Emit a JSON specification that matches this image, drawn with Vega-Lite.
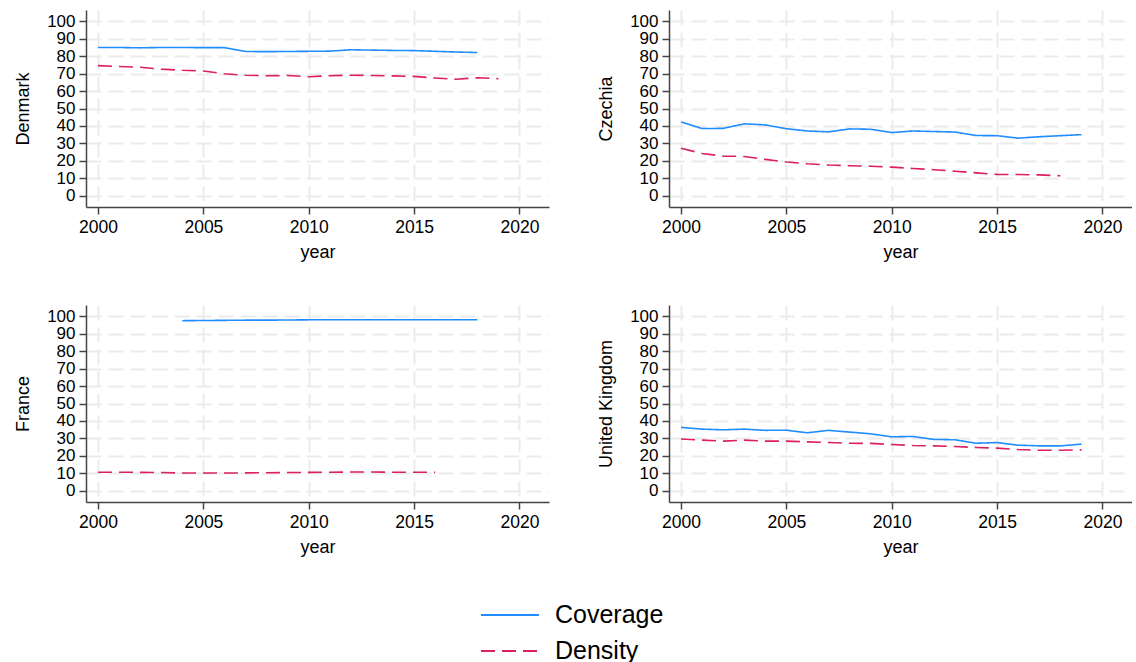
{
  "$schema": "https://vega.github.io/schema/vega-lite/v6.json",
  "padding": {"left": 14, "top": 10, "right": 0, "bottom": 0},
  "background": "white",
  "data": {"values": [
    {"country":"Denmark","series":"Coverage","year":2000,"value":85.0},
    {"country":"Denmark","series":"Coverage","year":2001,"value":85.0},
    {"country":"Denmark","series":"Coverage","year":2002,"value":84.8},
    {"country":"Denmark","series":"Coverage","year":2003,"value":85.0},
    {"country":"Denmark","series":"Coverage","year":2004,"value":85.0},
    {"country":"Denmark","series":"Coverage","year":2005,"value":84.9},
    {"country":"Denmark","series":"Coverage","year":2006,"value":84.9},
    {"country":"Denmark","series":"Coverage","year":2007,"value":82.7},
    {"country":"Denmark","series":"Coverage","year":2008,"value":82.6},
    {"country":"Denmark","series":"Coverage","year":2009,"value":82.7},
    {"country":"Denmark","series":"Coverage","year":2010,"value":82.8},
    {"country":"Denmark","series":"Coverage","year":2011,"value":82.9},
    {"country":"Denmark","series":"Coverage","year":2012,"value":83.7},
    {"country":"Denmark","series":"Coverage","year":2013,"value":83.5},
    {"country":"Denmark","series":"Coverage","year":2014,"value":83.3},
    {"country":"Denmark","series":"Coverage","year":2015,"value":83.2},
    {"country":"Denmark","series":"Coverage","year":2016,"value":82.8},
    {"country":"Denmark","series":"Coverage","year":2017,"value":82.4},
    {"country":"Denmark","series":"Coverage","year":2018,"value":82.1},
    {"country":"Denmark","series":"Density","year":2000,"value":74.6},
    {"country":"Denmark","series":"Density","year":2001,"value":74.1},
    {"country":"Denmark","series":"Density","year":2002,"value":73.7},
    {"country":"Denmark","series":"Density","year":2003,"value":72.6},
    {"country":"Denmark","series":"Density","year":2004,"value":71.9},
    {"country":"Denmark","series":"Density","year":2005,"value":71.5},
    {"country":"Denmark","series":"Density","year":2006,"value":69.9},
    {"country":"Denmark","series":"Density","year":2007,"value":69.1},
    {"country":"Denmark","series":"Density","year":2008,"value":68.8},
    {"country":"Denmark","series":"Density","year":2009,"value":68.9},
    {"country":"Denmark","series":"Density","year":2010,"value":68.2},
    {"country":"Denmark","series":"Density","year":2011,"value":68.8},
    {"country":"Denmark","series":"Density","year":2012,"value":69.1},
    {"country":"Denmark","series":"Density","year":2013,"value":68.9},
    {"country":"Denmark","series":"Density","year":2014,"value":68.7},
    {"country":"Denmark","series":"Density","year":2015,"value":68.4},
    {"country":"Denmark","series":"Density","year":2016,"value":67.5},
    {"country":"Denmark","series":"Density","year":2017,"value":66.8},
    {"country":"Denmark","series":"Density","year":2018,"value":67.6},
    {"country":"Denmark","series":"Density","year":2019,"value":67.1},
    {"country":"Czechia","series":"Coverage","year":2000,"value":42.3},
    {"country":"Czechia","series":"Coverage","year":2001,"value":38.5},
    {"country":"Czechia","series":"Coverage","year":2002,"value":38.6},
    {"country":"Czechia","series":"Coverage","year":2003,"value":41.2},
    {"country":"Czechia","series":"Coverage","year":2004,"value":40.6},
    {"country":"Czechia","series":"Coverage","year":2005,"value":38.4},
    {"country":"Czechia","series":"Coverage","year":2006,"value":37.1},
    {"country":"Czechia","series":"Coverage","year":2007,"value":36.6},
    {"country":"Czechia","series":"Coverage","year":2008,"value":38.3},
    {"country":"Czechia","series":"Coverage","year":2009,"value":38.1},
    {"country":"Czechia","series":"Coverage","year":2010,"value":36.2},
    {"country":"Czechia","series":"Coverage","year":2011,"value":37.1},
    {"country":"Czechia","series":"Coverage","year":2012,"value":36.8},
    {"country":"Czechia","series":"Coverage","year":2013,"value":36.5},
    {"country":"Czechia","series":"Coverage","year":2014,"value":34.5},
    {"country":"Czechia","series":"Coverage","year":2015,"value":34.4},
    {"country":"Czechia","series":"Coverage","year":2016,"value":33.0},
    {"country":"Czechia","series":"Coverage","year":2017,"value":33.8},
    {"country":"Czechia","series":"Coverage","year":2018,"value":34.4},
    {"country":"Czechia","series":"Coverage","year":2019,"value":35.0},
    {"country":"Czechia","series":"Density","year":2000,"value":27.2},
    {"country":"Czechia","series":"Density","year":2001,"value":24.2},
    {"country":"Czechia","series":"Density","year":2002,"value":22.7},
    {"country":"Czechia","series":"Density","year":2003,"value":22.5},
    {"country":"Czechia","series":"Density","year":2004,"value":20.8},
    {"country":"Czechia","series":"Density","year":2005,"value":19.3},
    {"country":"Czechia","series":"Density","year":2006,"value":18.3},
    {"country":"Czechia","series":"Density","year":2007,"value":17.6},
    {"country":"Czechia","series":"Density","year":2008,"value":17.2},
    {"country":"Czechia","series":"Density","year":2009,"value":16.9},
    {"country":"Czechia","series":"Density","year":2010,"value":16.4},
    {"country":"Czechia","series":"Density","year":2011,"value":15.6},
    {"country":"Czechia","series":"Density","year":2012,"value":14.9},
    {"country":"Czechia","series":"Density","year":2013,"value":14.0},
    {"country":"Czechia","series":"Density","year":2014,"value":13.1},
    {"country":"Czechia","series":"Density","year":2015,"value":12.2},
    {"country":"Czechia","series":"Density","year":2016,"value":12.1},
    {"country":"Czechia","series":"Density","year":2017,"value":11.9},
    {"country":"Czechia","series":"Density","year":2018,"value":11.4},
    {"country":"France","series":"Coverage","year":2004,"value":97.5},
    {"country":"France","series":"Coverage","year":2005,"value":97.6},
    {"country":"France","series":"Coverage","year":2006,"value":97.7},
    {"country":"France","series":"Coverage","year":2007,"value":97.8},
    {"country":"France","series":"Coverage","year":2008,"value":97.8},
    {"country":"France","series":"Coverage","year":2009,"value":97.9},
    {"country":"France","series":"Coverage","year":2010,"value":98.0},
    {"country":"France","series":"Coverage","year":2011,"value":98.0},
    {"country":"France","series":"Coverage","year":2012,"value":98.0},
    {"country":"France","series":"Coverage","year":2013,"value":98.0},
    {"country":"France","series":"Coverage","year":2014,"value":98.0},
    {"country":"France","series":"Coverage","year":2015,"value":98.0},
    {"country":"France","series":"Coverage","year":2016,"value":98.0},
    {"country":"France","series":"Coverage","year":2017,"value":98.0},
    {"country":"France","series":"Coverage","year":2018,"value":98.0},
    {"country":"France","series":"Density","year":2000,"value":10.6},
    {"country":"France","series":"Density","year":2001,"value":10.6},
    {"country":"France","series":"Density","year":2002,"value":10.5},
    {"country":"France","series":"Density","year":2003,"value":10.4},
    {"country":"France","series":"Density","year":2004,"value":10.1},
    {"country":"France","series":"Density","year":2005,"value":10.1},
    {"country":"France","series":"Density","year":2006,"value":10.1},
    {"country":"France","series":"Density","year":2007,"value":10.2},
    {"country":"France","series":"Density","year":2008,"value":10.3},
    {"country":"France","series":"Density","year":2009,"value":10.4},
    {"country":"France","series":"Density","year":2010,"value":10.5},
    {"country":"France","series":"Density","year":2011,"value":10.6},
    {"country":"France","series":"Density","year":2012,"value":10.7},
    {"country":"France","series":"Density","year":2013,"value":10.7},
    {"country":"France","series":"Density","year":2014,"value":10.6},
    {"country":"France","series":"Density","year":2015,"value":10.6},
    {"country":"France","series":"Density","year":2016,"value":10.5},
    {"country":"United Kingdom","series":"Coverage","year":2000,"value":36.3},
    {"country":"United Kingdom","series":"Coverage","year":2001,"value":35.3},
    {"country":"United Kingdom","series":"Coverage","year":2002,"value":34.9},
    {"country":"United Kingdom","series":"Coverage","year":2003,"value":35.3},
    {"country":"United Kingdom","series":"Coverage","year":2004,"value":34.6},
    {"country":"United Kingdom","series":"Coverage","year":2005,"value":34.7},
    {"country":"United Kingdom","series":"Coverage","year":2006,"value":33.2},
    {"country":"United Kingdom","series":"Coverage","year":2007,"value":34.6},
    {"country":"United Kingdom","series":"Coverage","year":2008,"value":33.6},
    {"country":"United Kingdom","series":"Coverage","year":2009,"value":32.6},
    {"country":"United Kingdom","series":"Coverage","year":2010,"value":30.9},
    {"country":"United Kingdom","series":"Coverage","year":2011,"value":31.1},
    {"country":"United Kingdom","series":"Coverage","year":2012,"value":29.4},
    {"country":"United Kingdom","series":"Coverage","year":2013,"value":29.2},
    {"country":"United Kingdom","series":"Coverage","year":2014,"value":27.2},
    {"country":"United Kingdom","series":"Coverage","year":2015,"value":27.6},
    {"country":"United Kingdom","series":"Coverage","year":2016,"value":26.1},
    {"country":"United Kingdom","series":"Coverage","year":2017,"value":25.7},
    {"country":"United Kingdom","series":"Coverage","year":2018,"value":25.7},
    {"country":"United Kingdom","series":"Coverage","year":2019,"value":26.7},
    {"country":"United Kingdom","series":"Density","year":2000,"value":29.6},
    {"country":"United Kingdom","series":"Density","year":2001,"value":29.0},
    {"country":"United Kingdom","series":"Density","year":2002,"value":28.4},
    {"country":"United Kingdom","series":"Density","year":2003,"value":29.0},
    {"country":"United Kingdom","series":"Density","year":2004,"value":28.4},
    {"country":"United Kingdom","series":"Density","year":2005,"value":28.4},
    {"country":"United Kingdom","series":"Density","year":2006,"value":28.0},
    {"country":"United Kingdom","series":"Density","year":2007,"value":27.6},
    {"country":"United Kingdom","series":"Density","year":2008,"value":27.2},
    {"country":"United Kingdom","series":"Density","year":2009,"value":27.1},
    {"country":"United Kingdom","series":"Density","year":2010,"value":26.5},
    {"country":"United Kingdom","series":"Density","year":2011,"value":25.9},
    {"country":"United Kingdom","series":"Density","year":2012,"value":25.7},
    {"country":"United Kingdom","series":"Density","year":2013,"value":25.3},
    {"country":"United Kingdom","series":"Density","year":2014,"value":24.8},
    {"country":"United Kingdom","series":"Density","year":2015,"value":24.4},
    {"country":"United Kingdom","series":"Density","year":2016,"value":23.6},
    {"country":"United Kingdom","series":"Density","year":2017,"value":23.2},
    {"country":"United Kingdom","series":"Density","year":2018,"value":23.2},
    {"country":"United Kingdom","series":"Density","year":2019,"value":23.4}
  ]},
  "columns": 2,
  "spacing": {"column": 48, "row": 43},
  "concat": [
    {
      "width": 463, "height": 197,
      "transform": [{"filter": "datum.country === 'Denmark'"}],
      "mark": {"type": "line", "strokeWidth": 1.6},
      "encoding": {
        "x": {"field": "year", "type": "quantitative", "title": "year", "scale": {"domain": [1999.43, 2021.4], "nice": false, "zero": false}, "axis": {"values": [2000, 2005, 2010, 2015, 2020], "format": "d"}},
        "y": {"field": "value", "type": "quantitative", "title": "Denmark", "scale": {"domain": [-6.5, 106.5], "nice": false}, "axis": {"values": [0,10,20,30,40,50,60,70,80,90,100]}},
        "color": {"field": "series", "type": "nominal", "title": null, "scale": {"domain": ["Coverage", "Density"], "range": ["#1f8cff", "#dc1f5e"]}},
        "strokeDash": {"field": "series", "type": "nominal", "title": null, "scale": {"domain": ["Coverage", "Density"], "range": [[1, 0], [14, 7]]}}
      }
    },
    {
      "width": 463, "height": 197,
      "transform": [{"filter": "datum.country === 'Czechia'"}],
      "mark": {"type": "line", "strokeWidth": 1.6},
      "encoding": {
        "x": {"field": "year", "type": "quantitative", "title": "year", "scale": {"domain": [1999.43, 2021.4], "nice": false, "zero": false}, "axis": {"values": [2000, 2005, 2010, 2015, 2020], "format": "d"}},
        "y": {"field": "value", "type": "quantitative", "title": "Czechia", "scale": {"domain": [-6.5, 106.5], "nice": false}, "axis": {"values": [0,10,20,30,40,50,60,70,80,90,100]}},
        "color": {"field": "series", "type": "nominal", "title": null, "scale": {"domain": ["Coverage", "Density"], "range": ["#1f8cff", "#dc1f5e"]}},
        "strokeDash": {"field": "series", "type": "nominal", "title": null, "scale": {"domain": ["Coverage", "Density"], "range": [[1, 0], [14, 7]]}}
      }
    },
    {
      "width": 463, "height": 197,
      "transform": [{"filter": "datum.country === 'France'"}],
      "mark": {"type": "line", "strokeWidth": 1.6},
      "encoding": {
        "x": {"field": "year", "type": "quantitative", "title": "year", "scale": {"domain": [1999.43, 2021.4], "nice": false, "zero": false}, "axis": {"values": [2000, 2005, 2010, 2015, 2020], "format": "d"}},
        "y": {"field": "value", "type": "quantitative", "title": "France", "scale": {"domain": [-6.5, 106.5], "nice": false}, "axis": {"values": [0,10,20,30,40,50,60,70,80,90,100]}},
        "color": {"field": "series", "type": "nominal", "title": null, "scale": {"domain": ["Coverage", "Density"], "range": ["#1f8cff", "#dc1f5e"]}},
        "strokeDash": {"field": "series", "type": "nominal", "title": null, "scale": {"domain": ["Coverage", "Density"], "range": [[1, 0], [14, 7]]}}
      }
    },
    {
      "width": 463, "height": 197,
      "transform": [{"filter": "datum.country === 'United Kingdom'"}],
      "mark": {"type": "line", "strokeWidth": 1.6},
      "encoding": {
        "x": {"field": "year", "type": "quantitative", "title": "year", "scale": {"domain": [1999.43, 2021.4], "nice": false, "zero": false}, "axis": {"values": [2000, 2005, 2010, 2015, 2020], "format": "d"}},
        "y": {"field": "value", "type": "quantitative", "title": "United Kingdom", "scale": {"domain": [-6.5, 106.5], "nice": false}, "axis": {"values": [0,10,20,30,40,50,60,70,80,90,100]}},
        "color": {"field": "series", "type": "nominal", "title": null, "scale": {"domain": ["Coverage", "Density"], "range": ["#1f8cff", "#dc1f5e"]}},
        "strokeDash": {"field": "series", "type": "nominal", "title": null, "scale": {"domain": ["Coverage", "Density"], "range": [[1, 0], [14, 7]]}}
      }
    }
  ],
  "config": {
    "font": "Liberation Sans",
    "view": {"stroke": null},
    "axis": {
      "labelFont": "Liberation Sans", "labelFontSize": 17.5, "labelColor": "#000",
      "titleFont": "Liberation Sans", "titleFontSize": 18, "titleFontWeight": "normal", "titleColor": "#000",
      "domainColor": "#444", "domainWidth": 1.5, "tickColor": "#444", "tickWidth": 1.5, "tickSize": 7,
      "gridColor": "#ebebeb", "gridWidth": 2, "gridDash": [15, 7], "labelPadding": 4
    },
    "axisX": {"titlePadding": 8},
    "axisY": {"titlePadding": 14, "labelOverlap": false, "labelFontSize": 17},
    "legend": {
      "orient": "none", "legendX": 394, "legendY": 589.5, "direction": "vertical", "padding": 0,
      "symbolType": "M-1,0H3", "symbolSize": 841, "symbolStrokeWidth": 2,
      "labelFont": "Liberation Sans", "labelFontSize": 25, "labelColor": "#000", "labelOffset": 44,
      "rowPadding": 7
    }
  }
}
